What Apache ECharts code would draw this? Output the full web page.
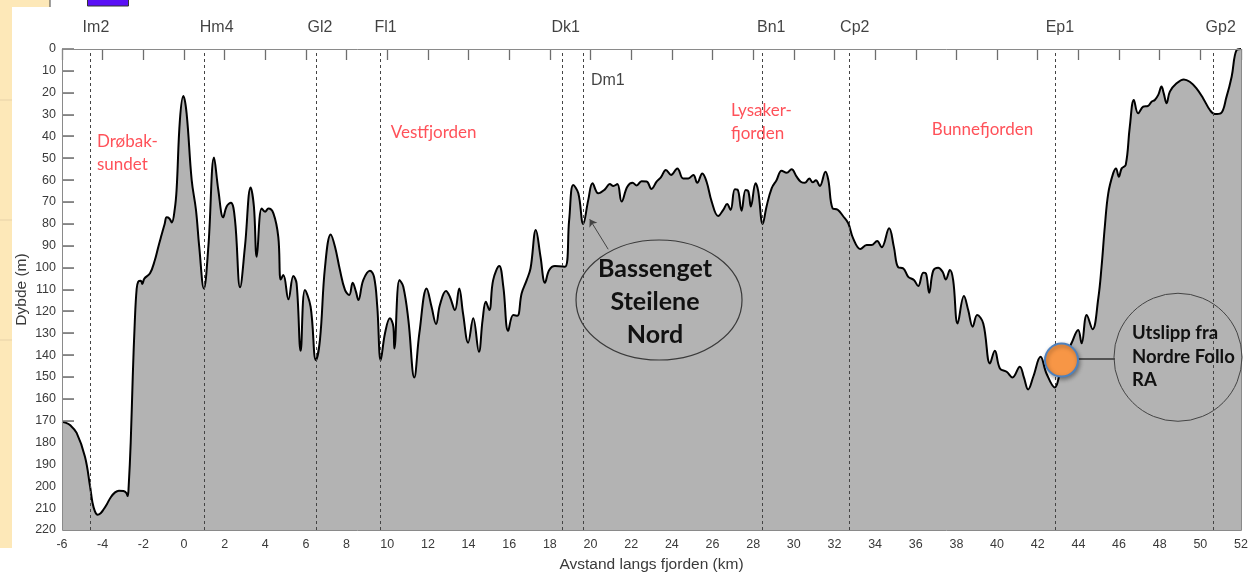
<!DOCTYPE html>
<html>
<head>
<meta charset="utf-8">
<script src="https://cdn.jsdelivr.net/npm/echarts@6/dist/echarts.min.js"></script>
<style>
html,body{margin:0;padding:0;background:#fff;}
#chart{width:1249px;height:574px;}
</style>
</head>
<body>
<div id="chart"></div>
<script>
// ---- data (km along fjord, depth in m) ----
const distanceKm = [
 -6.0,-5.8,-5.61,-5.28,-4.87,-4.62,-4.5,-4.38,-4.25,-4.1,-3.95,-3.8,-3.6,-3.39,-3.2,-2.98,-2.84,-2.77,-2.72,-2.62,-2.52,-2.42,-2.33,-2.25,
 -2.12,-2.05,-1.95,-1.67,-1.43,-1.26,-1.1,-0.95,-0.85,-0.72,-0.6,-0.45,-0.36,-0.2,-0.03,0.13,0.38,0.59,0.75,0.98,
 1.2,1.48,1.69,1.93,2.1,2.31,2.51,2.76,3.0,3.28,3.44,3.58,3.82,3.99,4.15,4.4,4.64,4.76,4.89,5.14,5.38,5.54,5.74,
 5.95,6.23,6.49,6.69,6.94,7.22,7.43,7.67,7.92,8.13,8.3,8.46,8.58,8.82,9.15,9.35,9.51,9.68,9.89,10.13,10.3,10.35,
 10.6,10.79,11.04,11.33,11.58,11.94,12.18,12.4,12.59,12.89,13.08,13.33,13.54,13.73,13.98,14.23,14.51,14.69,14.85,
 15.02,15.21,15.51,15.71,15.95,16.2,16.4,16.61,16.86,17.05,17.31,17.54,17.76,17.97,18.25,18.74,18.95,19.15,19.4,
 19.64,19.89,20.1,20.38,20.71,20.95,21.12,21.32,21.53,21.81,22.07,22.27,22.51,22.76,23.0,23.25,23.46,23.71,23.96,
 24.27,24.56,24.81,25.06,25.25,25.5,25.71,25.96,26.28,26.53,26.72,26.89,27.1,27.23,27.43,27.63,27.76,27.89,28.12,
 28.25,28.47,28.66,28.91,29.15,29.4,29.65,29.89,30.14,30.34,30.55,30.76,30.93,31.09,31.28,31.56,31.7,31.91,32.16,
 32.43,32.68,32.92,33.28,33.58,33.82,34.1,34.32,34.69,34.92,35.14,35.38,35.63,35.91,36.12,36.37,36.5,36.66,36.86,
 37.1,37.32,37.48,37.68,37.84,38.06,38.37,38.58,38.8,39.02,39.32,39.65,39.89,40.14,40.47,40.76,41.12,41.32,41.53,
 41.78,42.14,42.43,42.84,43.1,43.4,43.66,43.99,44.16,44.41,44.7,44.98,45.14,45.3,45.47,45.71,45.85,45.99,46.13,
 46.33,46.53,46.73,46.94,47.19,47.43,47.6,47.76,47.93,48.09,48.2,48.34,48.5,48.83,49.19,49.48,49.81,50.14,50.47,
 50.71,51.0,51.29,51.54,51.78,52.0
];
const depthM = [
 170.5,171,172,175.6,186.5,200,207.5,211.5,213,212.3,210.5,208.3,205,202.8,202,202.2,203,204.5,200,180,150,125,110,106.4,
 106,107.5,105,102.6,96.5,90.4,85,80,77,77.5,79.3,73,64,32.5,21.5,29.4,60,73.6,90.4,109.5,
 90.4,49.6,64.5,77,72,70.3,78.2,109,90.4,63.3,72,95,72.9,74.4,73,75.2,85.9,105.4,103.4,114.5,103.8,107.2,138,
 110.2,117.9,142.3,133,99.6,84.8,90.4,101,110.2,112.5,106.9,111,114.8,105.7,101.4,104.2,117.9,142.3,130,123.2,127,137,
 105.7,108.7,124,150.2,130,109.5,117.9,125.8,117.1,110.7,113.3,119.4,109.5,121,134.3,123.2,138.5,124,115.6,
 119.4,105.7,99.3,108.7,128.9,121.7,122,111.8,105.7,100.3,82.8,95,106.9,101.1,99.3,99.6,78.2,62.2,66,
 80,69,61.4,66,64.2,61.8,62.7,61.8,69.8,63,61.2,62.4,60.5,60.6,64,60.7,58.7,55.3,57.6,
 54.6,59.2,59.2,57.6,61.2,56.9,60.7,69.8,76.4,73.6,70.9,73.6,64.2,64.3,74,64.5,65,72,61.4,
 65,80,72,63.7,60,55.7,56.6,55,58.4,60.7,61.2,59.2,61,60,62.7,56.1,60,72.9,73.5,
 76.5,79.7,86.6,91.5,89.7,89.7,87.8,90.7,82,90.4,99.9,100.3,104.2,105.7,108.4,102.3,102.6,111.5,101.4,
 100,101.9,105.4,101.1,105.7,125.5,113,119.4,127,121.7,125.5,143.8,138,146.1,147.6,150.2,145.3,150.2,155.7,
 149.9,140.8,148.4,154.8,148,140,134.6,128.5,134.6,121.7,128.2,114,99.6,81.3,66,56.9,54.6,58.4,54.6,
 53,35.5,23.3,29.4,26.4,26,24.1,23.3,21,17.2,20.3,24.8,19.5,15.7,13.9,15,18,22.6,27.9,
 29.7,29.4,21.8,12.7,0.5,0
];

// stations
const stationNames   = ['Im2','Hm4','Gl2','Fl1','Dk1','Dm1','Bn1','Cp2','Ep1','Gp2'];
const stationKm      = [-4.62, 0.98, 6.49, 9.65, 18.6, 19.65, 28.46, 32.71, 42.87, 50.63];
const topLabelNames  = ['Im2','Hm4','Gl2','Fl1','Dk1','Bn1','Cp2','Ep1','Gp2'];
const topLabelKm     = [-4.33, 1.61, 6.69, 9.92, 18.78, 28.89, 33.0, 43.09, 51.0];
const topLabelDepth  = -10;
const dm1LabelKm = 20.02, dm1LabelDepth = 14.6;

// region labels
const regionNames = ['Drøbak-\nsundet', 'Vestfjorden', 'Lysaker-\nfjorden', 'Bunnefjorden'];
const regionKm    = [-4.28, 10.17, 26.91, 36.79];
const regionDepth = [47.5, 38.4, 33.4, 37.0];

// outfall point and annotations
const outfallKm = 43.17, outfallDepth = 142.3;
const basinText = ['Bassenget', 'Steilene', 'Nord'];
const basinCenter = [23.37, 114.8];
const arrowFrom = [20.87, 91.6], arrowTo = [19.96, 77.9];
const outfallText = ['Utslipp fra', 'Nordre Follo', 'RA'];
const outfallCircleCenter = [48.9, 141.0];
const connectorFrom = [43.98, 141.7], connectorTo = [45.8, 141.7];

const xTickMin = -6, xTickMax = 52, xTickStep = 2;
const yTickMin = 0, yTickMax = 220, yTickStep = 10;
const yTickValues = [0,10,20,30,40,50,60,70,80,90,100,110,120,130,140,150,160,170,180,190,200,210,220];

const chart = echarts.init(document.getElementById('chart'), null, {renderer: 'canvas'});
const profile = distanceKm.map((x, i) => [x, depthM[i]]);
const axisGray = '#8a8a8a';
const tickGray = '#6e6e6e';
const tickFont = {fontFamily: 'Liberation Sans, Arial, sans-serif', fontSize: 12.5, color: '#3a3a3a'};

const stationLines = stationKm.map(x => [{coord: [x, yTickMax]}, {coord: [x, yTickMin]}]);

const option = {
  animation: false,
  backgroundColor: '#ffffff',
  grid: {left: 62, right: 8, top: 49, bottom: 44, outerBoundsMode: 'none'},
  xAxis: [{
    type: 'value', position: 'bottom', min: xTickMin, max: xTickMax, interval: xTickStep,
    axisLine: {show: false, onZero: false}, axisTick: {show: false}, splitLine: {show: false},
    axisLabel: Object.assign({margin: 8}, tickFont),
    name: 'Avstand langs fjorden (km)', nameLocation: 'middle', nameGap: 27, nameMoveOverlap: false,
    nameTextStyle: {fontFamily: 'Liberation Sans, Arial, sans-serif', fontSize: 15.5, color: '#3a3a3a'}
  }, {
    type: 'value', position: 'top', min: xTickMin, max: xTickMax, interval: xTickStep,
    axisLine: {show: false, onZero: false}, axisLabel: {show: false}, splitLine: {show: false},
    axisTick: {show: true, inside: true, length: 11, lineStyle: {color: tickGray, width: 1.3}}
  }],
  yAxis: [{
    type: 'value', inverse: true, min: yTickMin, max: yTickMax, interval: yTickStep,
    position: 'left',
    axisLine: {show: false, onZero: false}, splitLine: {show: false},
    axisTick: {show: false},
    axisLabel: Object.assign({margin: 6}, tickFont),
    name: 'Dybde (m)', nameLocation: 'middle', nameGap: 32, nameRotate: 90, nameMoveOverlap: false,
    nameTextStyle: {fontFamily: 'Liberation Sans, Arial, sans-serif', fontSize: 15.5, color: '#3a3a3a'}
  }],
  series: [{
    name: 'stations', type: 'line', data: [], z: 1, silent: true,
    markLine: {
      silent: true, symbol: 'none', animation: false,
      label: {show: false},
      lineStyle: {color: '#444', width: 1, type: [3, 3]},
      data: stationLines
    }
  }, {
    name: 'profile', type: 'line', data: profile, z: 3,
    smooth: 0.4, showSymbol: false, symbol: 'none',
    lineStyle: {color: '#000', width: 2, join: 'round'},
    areaStyle: {color: '#b3b3b3', opacity: 1, origin: 'end'}
  }, {
    name: 'regions', type: 'scatter', z: 5, symbolSize: 0, silent: true,
    data: regionNames.map((n, i) => ({name: n, value: [regionKm[i], regionDepth[i]]})),
    label: {show: true, position: 'right', distance: 0, formatter: p => p.name,
      fontFamily: 'Lato, sans-serif', fontSize: 17, color: '#ff2630', lineHeight: 23, align: 'left'}
  }, {
    name: 'stationLabels', type: 'scatter', z: 5, symbolSize: 0, silent: true, clip: false,
    data: topLabelNames.map((n, i) => ({name: n, value: [topLabelKm[i], topLabelDepth]}))
      .concat([{name: 'Dm1', value: [dm1LabelKm, dm1LabelDepth],
        label: {position: 'right', distance: 0, align: 'left'}}]),
    label: {show: true, position: 'inside', formatter: p => p.name,
      fontFamily: 'Liberation Sans, Arial, sans-serif', fontSize: 16, color: '#111'}
  }, {
    name: 'annotations', type: 'line', data: [], z: 6, silent: true,
    markLine: {
      silent: true, animation: false, label: {show: false},
      data: [
        [{coord: arrowFrom, symbol: 'none'}, {coord: arrowTo, symbol: 'arrow', symbolSize: 7,
          lineStyle: {color: '#444', width: 1, type: 'solid'}}],
        [{coord: connectorFrom, symbol: 'none'}, {coord: connectorTo, symbol: 'none',
          lineStyle: {color: '#333', width: 1.5, type: 'solid'}}]
      ],
      lineStyle: {color: '#444', width: 1, type: 'solid'}
    }
  }, {
    name: 'outfall', type: 'scatter', z: 7, silent: true,
    data: [[outfallKm, outfallDepth]], symbolSize: 33,
    itemStyle: {color: '#f79646', borderColor: '#4f81bd', borderWidth: 2,
      shadowColor: 'rgba(0,0,0,0.35)', shadowBlur: 4, shadowOffsetX: 1, shadowOffsetY: 2, opacity: 1}
  }]
};
chart.setOption(option);

// annotation shapes placed through the chart's scales
const px = p => chart.convertToPixel({xAxisIndex: 0, yAxisIndex: 0}, p);
const tl = px([xTickMin, yTickMin]), br = px([xTickMax, yTickMax]);
const bc = px(basinCenter), oc = px(outfallCircleCenter);
const gLeft = Math.round(tl[0]);
// left inward ticks: only those above the sea floor at the left edge are visible in the source
const tickGraphics = yTickValues.filter(v => v < depthM[0]).map(v => {
  const y = Math.round(px([xTickMin, v])[1]);
  return {type: 'rect', z: 45, silent: true, shape: {x: gLeft, y: y - 0.75, width: 12, height: 1.6},
    style: {fill: tickGray}};
});
chart.setOption({
  graphic: [
    // background remnants of the source screenshot
    {type: 'rect', z: -5, shape: {x: 0, y: 0, width: 12, height: 548}, style: {fill: '#fde8b8'}, silent: true},
    {type: 'rect', z: -5, shape: {x: 0, y: 0, width: 50, height: 7}, style: {fill: '#fde8b8'}, silent: true},
    {type: 'rect', z: -5, shape: {x: 0, y: 99.5, width: 12, height: 1}, style: {fill: '#e6d3a8'}, silent: true},
    {type: 'rect', z: -5, shape: {x: 0, y: 219.5, width: 12, height: 1}, style: {fill: '#e6d3a8'}, silent: true},
    {type: 'rect', z: -5, shape: {x: 0, y: 339.5, width: 12, height: 1}, style: {fill: '#e6d3a8'}, silent: true},
    {type: 'rect', z: -5, shape: {x: 49.5, y: 0, width: 1, height: 7}, style: {fill: '#444'}, silent: true},
    {type: 'rect', z: -5, shape: {x: 87.5, y: -2, width: 41, height: 8}, style: {fill: '#5a10f5', stroke: '#333', lineWidth: 1}, silent: true}
  ].concat(tickGraphics).concat([
    // plot frame
    {type: 'rect', z: 50, silent: true,
      shape: {x: Math.round(tl[0]) + 0.5, y: Math.round(tl[1]) + 0.5, width: Math.round(br[0] - tl[0]), height: Math.round(br[1] - tl[1])},
      style: {fill: 'none', stroke: axisGray, lineWidth: 1}},
    // basin ellipse
    {type: 'ellipse', z: 50, silent: true, shape: {cx: bc[0], cy: bc[1], rx: 83, ry: 60},
      style: {fill: 'none', stroke: '#3a3a3a', lineWidth: 1.2}},
    {type: 'text', z: 51, silent: true, x: bc[0] - 4, y: bc[1] + 2,
      style: {text: basinText.join('\n'), font: 'bold 25px Lato, sans-serif', fill: '#111',
        align: 'center', verticalAlign: 'middle', lineHeight: 33}},
    // outfall circle
    {type: 'circle', z: 50, silent: true, shape: {cx: oc[0], cy: oc[1], r: 64},
      style: {fill: 'none', stroke: '#444', lineWidth: 1}},
    {type: 'text', z: 51, silent: true, x: oc[0] - 46, y: oc[1] - 0.5,
      style: {text: outfallText.join('\n'), font: 'bold 18.5px Lato, sans-serif', fill: '#111',
        align: 'left', verticalAlign: 'middle', lineHeight: 23.5}}
  ])
});
</script>
</body>
</html>
